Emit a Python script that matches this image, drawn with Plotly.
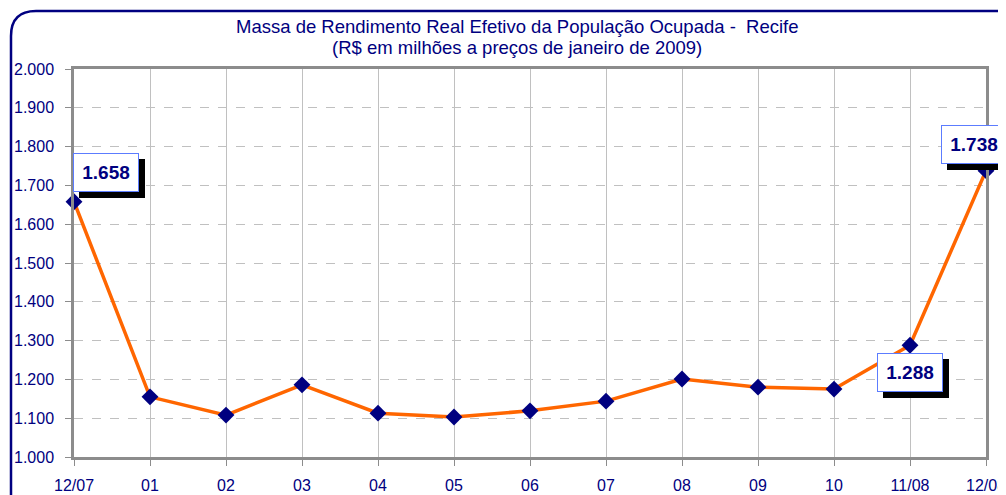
import plotly.graph_objects as go

categories = ["12/07", "01", "02", "03", "04", "05", "06", "07", "08", "09", "10", "11/08", "12/08"]
values = [1658, 1155, 1108, 1186, 1113, 1103, 1119, 1144, 1201, 1180, 1175, 1288, 1738]
labeled = {0: "1.658", 11: "1.288", 12: "1.738"}
label_shift = {0: (32, 29), 11: (0, -27), 12: (-12, 26)}

NAVY = "#000080"
OFF = 8  # page body margin in the browser
W, H = 1006 - OFF, 495 - OFF
# plot area in screen pixels
SL, SR, ST, SB = 74, 986, 69, 457
L, R, T, B = SL - OFF, SR - OFF, ST - OFF, SB - OFF


def px(x):
    return (x - SL) / (SR - SL)


def py(y):
    return (SB - y) / (SB - ST)


xs = list(range(len(categories)))
fig = go.Figure()
fig.add_trace(go.Scatter(
    x=xs, y=values, mode="lines+markers",
    line=dict(color="#FF6600", width=3.5),
    marker=dict(symbol="diamond", size=13, color=NAVY),
    cliponaxis=False, showlegend=False, hoverinfo="skip"))

FONT = "Liberation Sans, Arial"
annotations = []
# drop shadows of the value boxes (no text)
for i, txt in labeled.items():
    dx, dy = label_shift[i]
    annotations.append(dict(x=xs[i], y=values[i], xref="x", yref="y", text="&nbsp;", showarrow=False,
                            xshift=dx + 6, yshift=dy - 6, width=64, height=37, bgcolor="black",
                            bordercolor="black", borderwidth=1, borderpad=0,
                            font=dict(family=FONT, size=18, color="black")))
for i, txt in labeled.items():
    dx, dy = label_shift[i]
    annotations.append(dict(x=xs[i], y=values[i], xref="x", yref="y", text="<b>" + txt + "</b>",
                            showarrow=False, xshift=dx, yshift=dy, width=64, height=37,
                            bgcolor="white", bordercolor="#5c7cff", borderwidth=1, borderpad=0,
                            font=dict(family=FONT, size=19, color=NAVY)))

annotations.append(dict(x=px(517), y=py(27), xref="paper", yref="paper", showarrow=False,
                        text="Massa de Rendimento Real Efetivo da População Ocupada -  Recife",
                        font=dict(family=FONT, size=18.5, color=NAVY),
                        xanchor="center", yanchor="middle"))
annotations.append(dict(x=px(517), y=py(48), xref="paper", yref="paper", showarrow=False,
                        text="(R$ em milhões a preços de janeiro de 2009)",
                        font=dict(family=FONT, size=18.5, color=NAVY),
                        xanchor="center", yanchor="middle"))

frame_path = (f"M {px(11)} {py(540)} L {px(11)} {py(36)} "
              f"Q {px(11)} {py(11)} {px(36)} {py(11)} L {px(1060)} {py(11)}")

fig.update_layout(
    width=W, height=H,
    margin=dict(l=L, r=W - R, t=T, b=H - B, pad=0, autoexpand=False),
    paper_bgcolor="white", plot_bgcolor="white",
    separators=",.",
    annotations=annotations,
    shapes=[dict(type="path", path=frame_path, xref="paper", yref="paper",
                 line=dict(color=NAVY, width=2.5), layer="above")],
    xaxis=dict(range=[0, len(categories) - 1], tickvals=xs, ticktext=categories,
               showgrid=True, gridcolor="#c0c0c0", gridwidth=1,
               showline=True, linecolor="#8c8c8c", linewidth=2.5, mirror=True,
               ticks="outside", ticklen=6, tickcolor="#8c8c8c",
               tickfont=dict(family=FONT, size=16, color=NAVY),
               ticklabelstandoff=6, ticklabeloverflow="allow", automargin=False,
               zeroline=False, fixedrange=True),
    yaxis=dict(range=[1000, 2000], dtick=100, tickformat=",.0f",
               showgrid=True, gridcolor="#c0c0c0", gridwidth=1, griddash="dash",
               showline=True, linecolor="#8c8c8c", linewidth=2.5, mirror=True,
               ticks="outside", ticklen=6, tickcolor="#8c8c8c",
               tickfont=dict(family=FONT, size=16, color=NAVY),
               ticklabelstandoff=8, ticklabeloverflow="allow", automargin=False,
               zeroline=False, fixedrange=True),
)

fig.write_html("out.html")
